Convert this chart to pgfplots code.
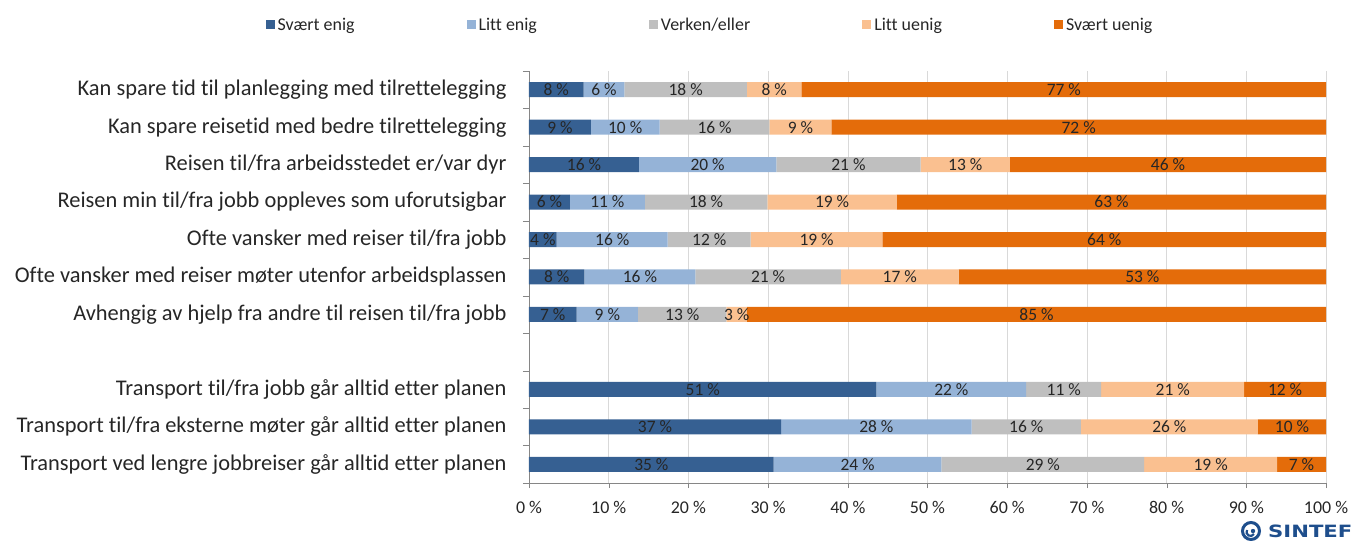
\documentclass[border=0pt]{standalone}
\usepackage{fontspec}
\setmainfont{Carlito}[Ligatures=CommonOff]
\newfontfamily\logofont{DejaVu Sans}
\usepackage{pgfplots}
\usepackage{pgfplotstable}
\pgfplotsset{compat=1.18}

\definecolor{sterkenig}{RGB}{54,96,146}
\definecolor{littenig}{RGB}{149,179,215}
\definecolor{verken}{RGB}{191,191,191}
\definecolor{littuenig}{RGB}{250,192,144}
\definecolor{sterkuenig}{RGB}{228,108,10}
\definecolor{akse}{RGB}{134,134,134}
\definecolor{rutenett}{RGB}{217,217,217}
\definecolor{tekst}{RGB}{38,38,38}
\definecolor{sintefblaa}{RGB}{30,78,140}

% bar widths: answers scaled to 100 % per row (y = row position, 3 is the gap)
\pgfplotstableread{
y  se    le    ve    lu    su
10 6.84  5.13  15.38 6.84  65.81
9  7.76  8.62  13.79 7.76  62.07
8  13.79 17.24 18.10 11.21 39.66
7  5.13  9.40  15.38 16.24 53.85
6  3.48  13.91 10.43 16.52 55.66
5  6.96  13.91 18.26 14.78 46.09
4  5.98  7.69  11.11 2.56  72.66
2  43.59 18.80 9.40  17.95 10.26
1  31.62 23.93 13.68 22.22 8.55
0  30.70 21.05 25.44 16.67 6.14
}\bars

% value labels: centre of each segment, row, printed value
\pgfplotstableread{
x     y  v
3.42  10 8
9.41  10 6
19.66 10 18
30.77 10 8
67.10 10 77
3.88  9  9
12.07 9  10
23.28 9  16
34.05 9  9
68.97 9  72
6.90  8  16
22.41 8  20
40.08 8  21
54.74 8  13
80.17 8  46
2.57  7  6
9.83  7  11
22.22 7  18
38.03 7  19
73.08 7  63
1.74  6  4
10.44 6  16
22.61 6  12
36.08 6  19
72.17 6  64
3.48  5  8
13.92 5  16
30.00 5  21
46.52 5  17
76.96 5  53
2.99  4  7
9.83  4  9
19.23 4  13
26.06 4  3
63.67 4  85
21.80 2  51
52.99 2  22
67.09 2  11
80.77 2  21
94.87 2  12
15.81 1  37
43.59 1  28
62.39 1  16
80.34 1  26
95.73 1  10
15.35 0  35
41.23 0  24
64.47 0  29
85.53 0  19
96.93 0  7
}\labs

\begin{document}
\begin{tikzpicture}
  \begin{axis}[
    at={(0,0)}, anchor=south west,
    scale only axis, width=797bp, height=412bp,
    xbar stacked, bar width=15bp,
    xmin=0, xmax=100, ymin=-0.5, ymax=10.5,
    axis lines*=left, axis line style={akse, -},
    tick align=outside,
    major tick length=5bp, minor tick length=6bp,
    xtick={0,10,...,100},
    xticklabel={\pgfmathprintnumber{\tick} \%},
    /pgf/number format/assume math mode=true,
    xticklabel style={font=\fontsize{18}{21}\selectfont, text=tekst, yshift=-10bp},
    ytick={10,9,8,7,6,5,4,2,1,0},
    yticklabels={
      Kan spare tid til planlegging med tilrettelegging,
      Kan spare reisetid med bedre tilrettelegging,
      Reisen til/fra arbeidsstedet er/var dyr,
      Reisen min til/fra jobb oppleves som uforutsigbar,
      Ofte vansker med reiser til/fra jobb,
      Ofte vansker med reiser møter utenfor arbeidsplassen,
      Avhengig av hjelp fra andre til reisen til/fra jobb,
      Transport til/fra jobb går alltid etter planen,
      Transport til/fra eksterne møter går alltid etter planen,
      Transport ved lengre jobbreiser går alltid etter planen},
    yticklabel style={font=\fontsize{22.5}{26}\selectfont, text=tekst, xshift=-14bp},
    minor ytick={-0.5,0.5,...,10.5},
    major y tick style={draw=none},
    minor y tick style={draw=akse},
    major x tick style={draw=akse},
    xmajorgrids, grid style={rutenett},
    legend columns=5,
    legend style={at={(0.2278,1.1117)}, anchor=center, draw=none, fill=none,
      font=\fontsize{18}{21}\selectfont, text=tekst,
      nodes={inner xsep=3bp},
      /tikz/every even column/.append style={column sep=109bp}},
    legend image code/.code={\fill[#1] (0bp,-4.5bp) rectangle (9bp,4.5bp);},
  ]
    \addplot[fill=sterkenig, draw=none] table[x=se, y=y] {\bars};
    \addlegendentry{Svært enig}
    \addplot[fill=littenig, draw=none] table[x=le, y=y] {\bars};
    \addlegendentry{Litt enig}
    \addplot[fill=verken, draw=none] table[x=ve, y=y] {\bars};
    \addlegendentry{Verken/eller}
    \addplot[fill=littuenig, draw=none] table[x=lu, y=y] {\bars};
    \addlegendentry{Litt uenig}
    \addplot[fill=sterkuenig, draw=none] table[x=su, y=y] {\bars};
    \addlegendentry{Svært uenig}
  \end{axis}
  \begin{axis}[
    at={(0,0)}, anchor=south west,
    scale only axis, width=797bp, height=412bp,
    xmin=0, xmax=100, ymin=-0.5, ymax=10.5,
    hide axis,
  ]
    \addplot[only marks, mark=none, point meta=explicit symbolic,
      nodes near coords={\pgfplotspointmeta\ \%},
      every node near coord/.append style={anchor=center,
        font=\fontsize{17.5}{20}\selectfont, text=tekst, inner sep=0pt}]
      table[x=x, y=y, meta=v] {\labs};
  \end{axis}
  % SINTEF logo
  \draw[sintefblaa, line width=3bp] (722bp,-48bp) circle[radius=8.5bp];
  \draw[sintefblaa, line width=2.2bp] (718bp,-47bp) arc[start angle=150, end angle=330, radius=4bp];
  \fill[sintefblaa] (724bp,-48bp) circle[radius=2.2bp];
  \node[anchor=west, inner sep=0pt, text=sintefblaa,
    font=\logofont\bfseries\fontsize{17}{20}\selectfont] at (739bp,-48bp)
    {\scalebox{1.25}[1]{SINTEF}};
  \pgfresetboundingbox
  \path[use as bounding box] (-529bp,-58bp) rectangle (834bp,483bp);
\end{tikzpicture}
\end{document}
